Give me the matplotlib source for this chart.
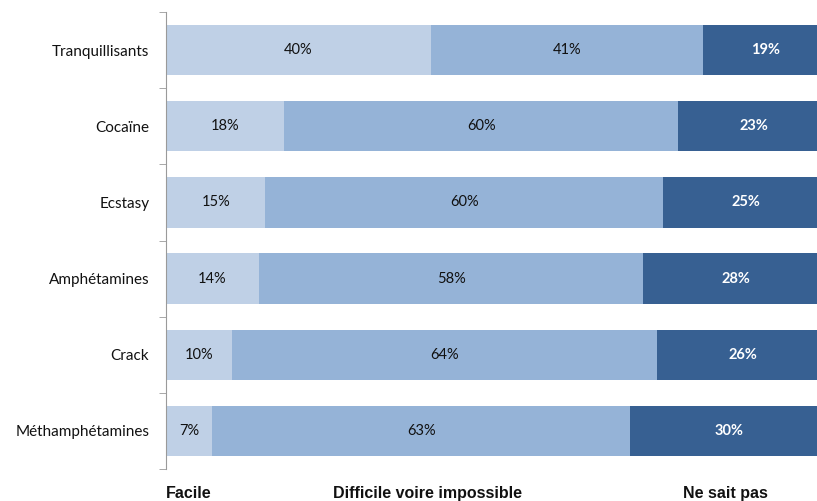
import matplotlib
matplotlib.use("Agg")
import matplotlib.pyplot as plt
import numpy as np

categories = ["Tranquillisants", "Cocaïne", "Ecstasy", "Amphétamines", "Crack", "Méthamphétamines"]
facile = [40, 18, 15, 14, 10, 7]
difficile = [41, 60, 60, 58, 64, 63]
ne_sait_pas = [19, 23, 25, 28, 26, 30]
series_names = ["Facile", "Difficile voire impossible", "Ne sait pas"]

colors = ["#BFD0E6", "#95B3D7", "#376092"]
text_colors = ["#111111", "#111111", "white"]
weights = ["normal", "normal", "bold"]

data = np.array([facile, difficile, ne_sait_pas], dtype=float)
totals = data.sum(axis=0)
shares = data / totals  # 100% stacked

W, H = 817, 501
fig = plt.figure(figsize=(W / 100, H / 100), dpi=100)
ax = fig.add_axes([166 / W, 32 / H, 663 / W, 457 / H])

y = np.arange(len(categories))
left = np.zeros(len(categories))
for i in range(3):
    ax.barh(y, shares[i], left=left, height=0.66, color=colors[i], edgecolor="none")
    for j in range(len(categories)):
        ax.text(left[j] + shares[i][j] / 2, y[j], f"{int(data[i][j])}%",
                ha="center", va="center", fontsize=10.5, family="Lato",
                color=text_colors[i], fontweight=weights[i])
    left += shares[i]

ax.set_xlim(0, 1)
ax.set_ylim(len(categories) - 0.5, -0.5)
ax.set_yticks(y)
ax.set_yticklabels(categories, fontsize=11, family="Lato", color="#111111")
ax.tick_params(axis="y", which="major", length=0, pad=12)
ax.set_yticks(np.arange(-0.5, len(categories), 1), minor=True)
ax.tick_params(axis="y", which="minor", length=5, color="#9a9a9a", direction="out")
ax.set_xticks([])
for s in ["top", "right", "bottom"]:
    ax.spines[s].set_visible(False)
ax.spines["left"].set_color("#9a9a9a")

legend_x = [166, 333, 683]
for name, x in zip(series_names, legend_x):
    fig.text(x / W, 3 / H, name, ha="left", va="baseline", fontsize=11.5,
             family="Liberation Sans", fontweight="bold", color="#111111")

fig.savefig("out.png", dpi=100)
